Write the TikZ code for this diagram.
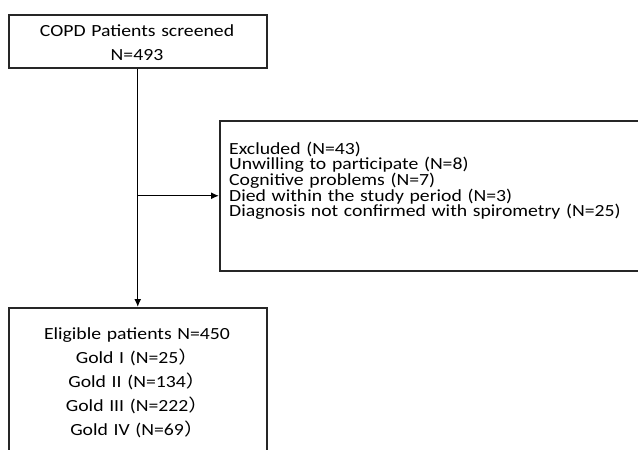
\documentclass[tikz,border=0pt]{standalone}
\usepackage{fontspec}
\usetikzlibrary{arrows.meta}
\setmainfont{Carlito}[FakeStretch=1.16]
\newfontfamily\cjkfont{Noto Sans CJK SC}[FakeStretch=1.16]
\newcommand{\fwr}{{\cjkfont ）}}
\begin{document}
\begin{tikzpicture}[x=1pt,y=1pt,
  box/.style={draw=black!85, line width=1.5pt, inner sep=0pt},
  txt/.style={inner sep=0pt, anchor=base},
  conn/.style={line width=1.4pt, -{Latex[length=8pt,width=7pt]}}]
\useasboundingbox (0,0) rectangle (638,-450);
\clip (0,0) rectangle (638,-450);
\node[box, minimum width=258pt, minimum height=53pt, anchor=north west] (top) at (8,-14) {};
\node[txt, text width=258pt, align=center, font=\fontsize{17}{24.6}\selectfont] (toptext) at (137,-36) {COPD Patients screened\\N=493};
\node[box, minimum width=441pt, minimum height=150pt, anchor=north west] (excl) at (219,-120) {};
\node[txt, text width=400pt, align=left, font=\fontsize{17}{15.7}\selectfont, anchor=base west] (excltext) at (229,-154)
 {Excluded (N=43)\\Unwilling to participate (N=8)\\Cognitive problems (N=7)\\Died within the study period (N=3)\\Diagnosis not confirmed with spirometry (N=25)};
\node[box, minimum width=258pt, minimum height=170pt, anchor=north west] (elig) at (8,-307) {};
\node[txt, text width=258pt, align=center, font=\fontsize{17}{24.1}\selectfont] (eligtext) at (137,-339.3)
 {Eligible patients N=450\\Gold I (N=25\fwr\\Gold II (N=134\fwr\\Gold III (N=222\fwr\\Gold IV (N=69\fwr};
\coordinate (br) at (top.south |- excl.west);
\draw[conn] (top.south) -- (elig.north);
\draw[conn] (br) -- (excl.west);
\end{tikzpicture}
\end{document}
